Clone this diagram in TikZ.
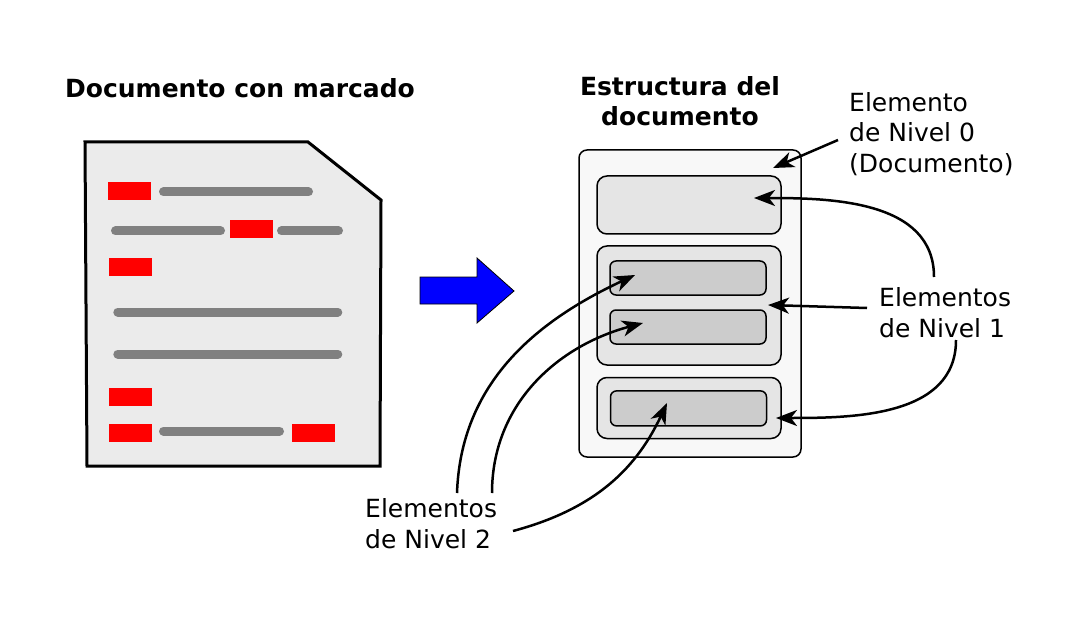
\documentclass[tikz,border=0pt]{standalone}
\usepackage{fontspec}
\setmainfont{DejaVu Sans}
\usetikzlibrary{arrows.meta}
\definecolor{docfill}{HTML}{EBEBEB}
\definecolor{outerfill}{HTML}{F8F8F8}
\definecolor{midfill}{HTML}{E5E5E5}
\definecolor{innerfill}{HTML}{CCCCCC}
\definecolor{linegray}{HTML}{808080}
\tikzset{
  box/.style={draw, line width=1.5pt, rounded corners=8pt},
  pointer/.style={line width=2.5pt, -{Stealth[length=21pt,width=16pt,inset=6pt]}},
  lbl/.style={anchor=north west, inner sep=0pt, align=left},
  title/.style={inner sep=0pt, font=\fontsize{25}{30.5}\selectfont\bfseries}
}
\begin{document}
\begin{tikzpicture}[x=1pt, y=-1pt, font=\fontsize{25}{30.5}\selectfont]
  \useasboundingbox (0,0) rectangle (1078,628);
  \node[title, anchor=base] (lefttitle) at (240,98) {Documento con marcado};
  \draw[line width=3pt, fill=docfill] (85,142) -- (308,142) -- (381,200) -- (380,466) -- (87,466) -- cycle;
  \foreach \x/\y in {108/182, 230/220, 109/258, 109/388, 109/424, 292/424} {
    \fill[red] (\x,\y) rectangle ++(43,18);
  }
  \foreach \a/\b/\y in {
    163.5/308.5/192, 115.5/220.5/231, 281.5/338.5/231,
    117.8/337.8/312, 117.8/337.8/354, 163.5/279.5/431} {
    \draw[line width=9pt, line cap=round, linegray] (\a,\y) -- (\b,\y);
  }
  \draw[fill=blue, line width=0.8pt] (420,277) -- (477,277) -- (477,258) -- (514,291) -- (477,323) -- (477,304) -- (420,304) -- cycle;
  \node[title, anchor=north, align=center] (righttitle) at (680,76) {Estructura del\\documento};
  \node[box, fill=outerfill, minimum width=222pt, minimum height=307pt] (doc) at (690,303.5) {};
  \node[box, fill=midfill, minimum width=184pt, minimum height=58pt, rounded corners=10pt] (boxa) at (689,205) {};
  \node[box, fill=midfill, minimum width=184pt, minimum height=119pt, rounded corners=10pt] (boxb) at (689,305.5) {};
  \node[box, fill=innerfill, minimum width=156pt, minimum height=34pt, rounded corners=6pt] (boxba) at (688,278) {};
  \node[box, fill=innerfill, minimum width=156pt, minimum height=34pt, rounded corners=6pt] (boxbb) at (688,327) {};
  \node[box, fill=midfill, minimum width=184pt, minimum height=61pt, rounded corners=10pt] (boxc) at (689,408) {};
  \node[box, fill=innerfill, minimum width=156pt, minimum height=35pt, rounded corners=6pt] (boxca) at (688.5,408.4) {};
  \node[lbl] (lvl0) at (849,92) {Elemento\\de Nivel 0\\(Documento)};
  \node[lbl] (lvl1) at (879,287.5) {Elementos\\de Nivel 1};
  \node[lbl] (lvl2) at (365,498.5) {Elementos\\de Nivel 2};
  \coordinate (from0) at (838,140);
  \coordinate (to0) at (773,168);
  \coordinate (from1a) at (934,277);
  \coordinate (to1a) at (754,198);
  \coordinate (from1b) at (867,308);
  \coordinate (to1b) at (768,305);
  \coordinate (from1c) at (956,340);
  \coordinate (to1c) at (776,418);
  \coordinate (from2a) at (457,493);
  \coordinate (to2a) at (635,275);
  \coordinate (from2b) at (492,493);
  \coordinate (to2b) at (643,323);
  \coordinate (from2c) at (513,531);
  \coordinate (to2c) at (667,403);
  \draw[pointer] (from0) -- (to0);
  \draw[pointer] (from1a) to[out=90, in=0] (to1a);
  \draw[pointer] (from1b) -- (to1b);
  \draw[pointer] (from1c) to[out=-90, in=0] (to1c);
  \draw[pointer] (from2a) to[out=88, in=205] (to2a);
  \draw[pointer] (from2b) to[out=90, in=195] (to2b);
  \draw[pointer] (from2c) to[out=15, in=245] (to2c);
\end{tikzpicture}
\end{document}
